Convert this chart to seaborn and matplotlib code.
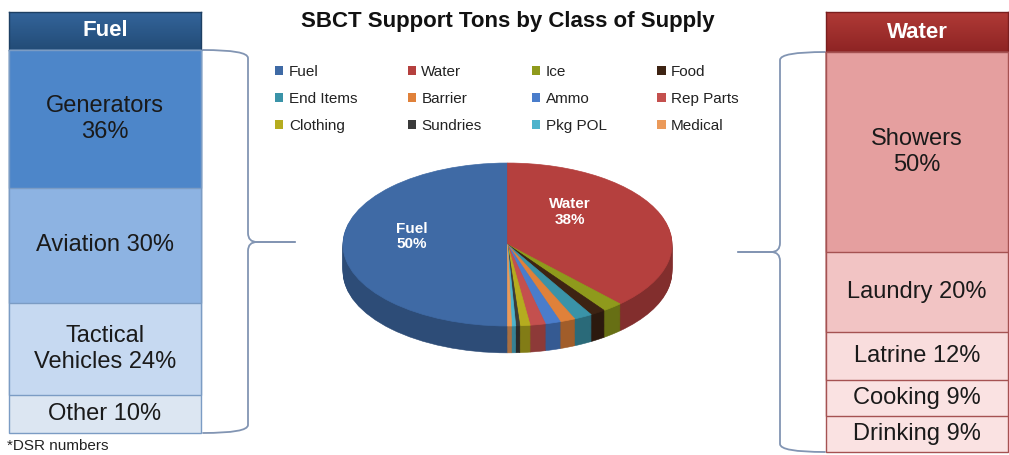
import numpy as np
import pandas as pd
import matplotlib
matplotlib.use("Agg")
import matplotlib.pyplot as plt
import matplotlib.colors as mcolors
from matplotlib.colors import LinearSegmentedColormap
from matplotlib.patches import Patch, PathPatch
from matplotlib.path import Path
import seaborn as sns

# ---------------- data ----------------
title = "SBCT Support Tons by Class of Supply"
footnote = "*DSR numbers"

supply_classes = ["Fuel", "Water", "Ice", "Food", "End Items", "Barrier",
                  "Ammo", "Rep Parts", "Clothing", "Sundries", "Pkg POL", "Medical"]
supply_share = [50.0, 38.0, 2.0, 1.5, 1.8, 1.5, 1.5, 1.5, 1.0, 0.4, 0.4, 0.4]
pie_labels = ["Fuel\n50%", "Water\n38%"]

fuel_header = "Fuel"
fuel_uses = ["Generators\n36%", "Aviation 30%", "Tactical\nVehicles 24%", "Other 10%"]
fuel_use_share = [36, 30, 24, 10]

water_header = "Water"
water_uses = ["Showers\n50%", "Laundry 20%", "Latrine 12%", "Cooking 9%", "Drinking 9%"]
water_use_share = [50, 20, 12, 9, 9]

# ---------------- styles ----------------
supply_colors = ["#3F6AA5", "#B5403E", "#8F9A1C", "#3D2313", "#3A93A8", "#E0813A",
                 "#4A7DCB", "#C4504E", "#B5AC1F", "#3A3A3A", "#4DB3CC", "#EB9A5A"]
fuel_use_colors = ["#4D86C9", "#8DB3E2", "#C6D9F1", "#DCE6F2"]
water_use_colors = ["#E59F9F", "#F2C4C4", "#F9DDDD", "#FAE2E2", "#FAE2E2"]

sns.set_theme(style="white")
plt.rcParams["font.family"] = ["Liberation Sans", "DejaVu Sans"]

W, H = 1009, 455
fig = plt.figure(figsize=(W / 100, H / 100), dpi=100)
fig.patch.set_facecolor("white")


def px_axes(x0, y0, x1, y1, **kw):
    return fig.add_axes([x0 / W, 1 - y1 / H, (x1 - x0) / W, (y1 - y0) / H], **kw)


def darken(c, f):
    r, g, b = mcolors.to_rgb(c)
    return (r * f, g * f, b * f)


# ---------------- overlay (braces, title, footnote) ----------------
ax_o = px_axes(0, 0, W, H)
ax_o.set_xlim(0, W)
ax_o.set_ylim(H, 0)
ax_o.axis("off")
ax_o.patch.set_alpha(0)


def brace(ax, x_open, x_line, y0, y1, ym, x_tip, color):
    s = np.sign(x_tip - x_line)
    c = 9
    t = 8
    for ya, sy in ((y0, 1), (y1, -1)):
        verts = [(x_open, ya), (x_line, ya), (x_line, ya + sy * t),
                 (x_line, ym - sy * c), (x_line, ym), (x_line + s * c, ym),
                 (x_tip, ym)]
        codes = [Path.MOVETO, Path.CURVE3, Path.CURVE3, Path.LINETO,
                 Path.CURVE3, Path.CURVE3, Path.LINETO]
        ax.add_patch(PathPatch(Path(verts, codes), facecolor="none",
                               edgecolor=color, lw=1.3, capstyle="round"))


brace(ax_o, 203, 248, 50, 433, 242, 295, "#8295B3")
brace(ax_o, 825, 780, 52, 452, 252, 738, "#8295B3")

ax_o.text(508, 22, title, ha="center", va="center", fontsize=16,
          fontweight="bold", color="#111111")
ax_o.text(7, 453, footnote, ha="left", va="bottom", fontsize=11, color="#222222")


# ---------------- stacked boxes ----------------
def draw_header(box, text, c_top, c_bot, edge):
    ax = px_axes(*box)
    cmap = LinearSegmentedColormap.from_list("g", [c_top, c_bot])
    ax.imshow(np.linspace(0, 1, 50).reshape(-1, 1), aspect="auto", cmap=cmap,
              extent=(0, 1, 0, 1), origin="upper")
    ax.set_xlim(0, 1)
    ax.set_ylim(0, 1)
    for sp in ax.spines.values():
        sp.set_color(edge)
        sp.set_linewidth(1.0)
    ax.set_xticks([])
    ax.set_yticks([])
    ax.text(0.5, 0.5, text, ha="center", va="center", fontsize=16,
            fontweight="bold", color="white", transform=ax.transAxes)


def draw_stack(box, labels, shares, colors, edge):
    ax = px_axes(*box)
    shares = np.asarray(shares, dtype=float)
    cum = np.cumsum(shares)
    df = pd.DataFrame({"col": ["stack"] * len(shares), "cum": cum, "seg": labels}).iloc[::-1]
    sns.barplot(data=df, x="col", y="cum", hue="seg", palette=list(colors)[::-1],
                dodge=False, width=1, saturation=1, errorbar=None, legend=False,
                ax=ax, edgecolor=edge, linewidth=1.0)
    ax.set_xlim(-0.5, 0.5)
    ax.set_ylim(cum[-1], 0)
    ax.axis("off")
    for p in ax.patches:
        p.set_clip_on(False)
    starts = cum - shares
    for lab, s0, v in zip(labels, starts, shares):
        ax.text(0, s0 + v / 2, lab, ha="center", va="center", fontsize=17,
                color="#1A1A1A", linespacing=1.25)
    return ax


draw_header((9, 12, 201, 50), fuel_header, "#33649A", "#234C77", "#1D3F63")
draw_stack((9, 50, 201, 433), fuel_uses, fuel_use_share, fuel_use_colors, "#7B9CC4")

draw_header((826, 12, 1008, 52), water_header, "#B03A36", "#8E2424", "#7A1E1E")
draw_stack((826, 52, 1008, 452), water_uses, water_use_share, water_use_colors, "#A55252")

# ---------------- 3D-looking pie ----------------
ax_p = px_axes(330, 150, 685, 365)
depth = 0.33
side_colors = [darken(c, 0.72) for c in supply_colors]
for k in np.linspace(depth, 0.0, 30, endpoint=False):
    sw, _ = ax_p.pie(supply_share, colors=side_colors, startangle=270,
                     counterclock=False, center=(0, -k),
                     wedgeprops=dict(linewidth=0.4))
    for w in sw:
        w.set_edgecolor(w.get_facecolor())
wedges, _ = ax_p.pie(supply_share, colors=supply_colors, startangle=270,
                     counterclock=False, wedgeprops=dict(linewidth=0.5))
for w in wedges:
    w.set_edgecolor(w.get_facecolor())
ax_p.set_aspect("auto")
ax_p.set_xlim(-1.079, 1.079)
ax_p.set_ylim(-1.479, 1.16)
ax_p.axis("off")

label_pos = [(-0.58, 0.10), (0.38, 0.40)]
for lab, (lx, ly) in zip(pie_labels, label_pos):
    ax_p.text(lx, ly, lab, ha="center", va="center", fontsize=11,
              fontweight="bold", color="white", linespacing=1.15)

# ---------------- legend (row-major, 4 columns) ----------------
ncol = 4
nrow = int(np.ceil(len(supply_classes) / ncol))
order = [r * ncol + c for c in range(ncol) for r in range(nrow)]
handles = [Patch(facecolor=supply_colors[i], edgecolor="none") for i in order]
labels = [supply_classes[i] for i in order]
fig.legend(handles, labels, ncol=ncol, loc="upper left",
           bbox_to_anchor=(275 / W, 1 - 65 / H), frameon=False, fontsize=11,
           handlelength=0.55, handleheight=0.55, handletextpad=0.35,
           columnspacing=3.3, labelspacing=0.86, borderpad=0, borderaxespad=0,
           labelcolor="#222222")

fig.savefig("out.png", dpi=100, facecolor="white")
